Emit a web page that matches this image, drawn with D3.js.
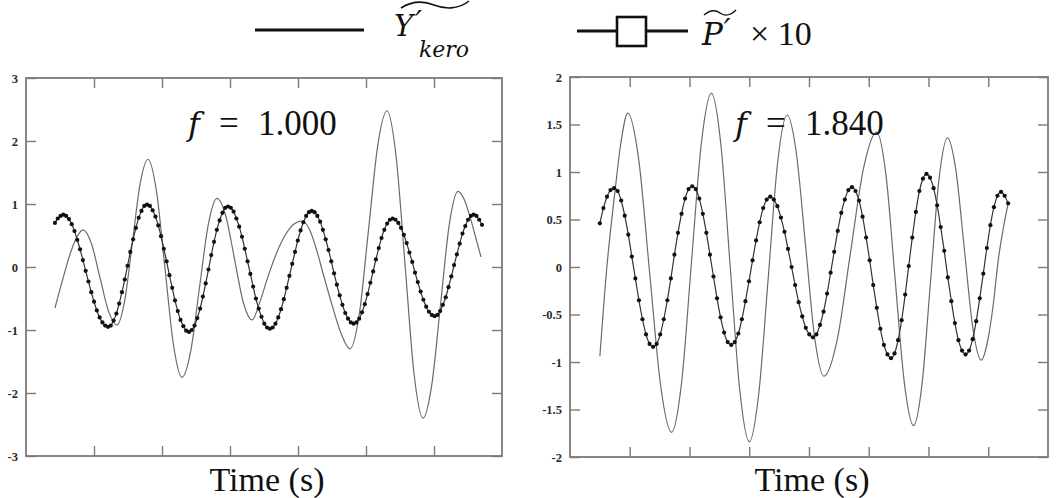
<!DOCTYPE html>
<html>
<head>
<meta charset="utf-8">
<script src="https://cdn.jsdelivr.net/npm/d3@7"></script>
<style>
  body { margin: 0; background: #fff; }
  svg { display: block; }
</style>
</head>
<body>
<div id="chart"></div>
<script>
/**
 * Data.
 */
// Left panel (f = 1.000): thin line, Y'kero.
const leftLineT = [0.426, 0.544, 0.662, 0.750, 0.838, 0.963, 1.088, 1.213, 1.338, 1.452, 1.566, 1.680, 1.794,
  1.919, 2.044, 2.169, 2.294, 2.423, 2.551, 2.680, 2.809, 2.938, 3.066, 3.195, 3.324, 3.441, 3.544, 3.676,
  3.809, 3.926, 4.059, 4.176, 4.279, 4.368, 4.500, 4.632, 4.765, 4.901, 5.037, 5.173, 5.309, 5.441, 5.574,
  5.706, 5.838, 5.967, 6.096, 6.224, 6.353, 6.441, 6.529, 6.618, 6.691];
const leftLineV = [-0.65, -0.18, 0.25, 0.48, 0.59, 0.37, -0.17, -0.70, -0.92, -0.53, 0.40, 1.33, 1.71,
  1.20, -0.02, -1.24, -1.75, -1.33, -0.33, 0.67, 1.09, 0.81, 0.13, -0.56, -0.84, -0.55, -0.20, 0.20,
  0.50, 0.67, 0.73, 0.58, 0.25, -0.10, -0.60, -1.05, -1.30, -0.75, 0.59, 1.93, 2.48, 1.77, 0.04,
  -1.69, -2.40, -1.87, -0.60, 0.67, 1.20, 1.08, 0.80, 0.45, 0.16];

// Left panel: P' x 10, sampled at a constant step between these two times.
const leftDotStart = 0.426;
const leftDotEnd = 6.706;
const leftDotV = [0.70, 0.77, 0.81, 0.83,
  0.81, 0.76, 0.68, 0.57, 0.43, 0.28, 0.11, -0.06, -0.23, -0.40, -0.55, -0.69, -0.80, -0.88, -0.93, -0.95,
  -0.93, -0.85, -0.74, -0.58, -0.40, -0.20, 0.02, 0.24, 0.44, 0.62, 0.78, 0.89, 0.97, 0.99,
  0.97, 0.90, 0.80, 0.66, 0.49, 0.29, 0.09, -0.13, -0.33, -0.53, -0.70, -0.84, -0.94, -1.01, -1.03,
  -1.00, -0.93, -0.81, -0.66, -0.47, -0.26, -0.04, 0.19, 0.40, 0.59, 0.74, 0.86, 0.94, 0.96,
  0.94, 0.88, 0.77, 0.64, 0.48, 0.29, 0.09, -0.11, -0.31, -0.50, -0.66, -0.79, -0.90, -0.96, -0.98,
  -0.96, -0.90, -0.80, -0.67, -0.51, -0.33, -0.14, 0.05, 0.24, 0.42, 0.58, 0.71, 0.81, 0.87, 0.89,
  0.87, 0.81, 0.72, 0.59, 0.44, 0.27, 0.09, -0.10, -0.28, -0.45, -0.60, -0.73, -0.82, -0.88, -0.90,
  -0.88, -0.82, -0.72, -0.59, -0.43, -0.25, -0.07, 0.12, 0.30, 0.46, 0.59, 0.69, 0.75, 0.77,
  0.75, 0.70, 0.62, 0.51, 0.38, 0.23, 0.08, -0.09, -0.24, -0.39, -0.52, -0.63, -0.71, -0.76, -0.78,
  -0.76, -0.70, -0.60, -0.48, -0.32, -0.15, 0.03, 0.20, 0.37, 0.53, 0.65, 0.75, 0.81, 0.83,
  0.81, 0.75, 0.67];

// Right panel (f = 1.840): thin line.
const rightLineT = [0.500, 0.617, 0.750, 0.850, 0.967, 1.150, 1.333, 1.517, 1.700, 1.867, 2.033, 2.200,
  2.367, 2.525, 2.683, 2.842, 3.000, 3.158, 3.317, 3.475, 3.633, 3.788, 3.942, 4.096, 4.250, 4.471,
  4.692, 4.913, 5.133, 5.288, 5.442, 5.596, 5.750, 5.892, 6.033, 6.175, 6.317, 6.458, 6.600, 6.742,
  6.883, 6.983, 7.083, 7.167, 7.250, 7.333];
const rightLineV = [-0.94, 0.00, 0.78, 1.30, 1.62, 1.13, -0.06, -1.25, -1.74, -1.22, 0.05, 1.31,
  1.83, 1.29, -0.01, -1.30, -1.84, -1.34, -0.12, 1.10, 1.60, 1.20, 0.23, -0.75, -1.15, -0.77,
  0.14, 1.04, 1.42, 0.97, -0.13, -1.22, -1.67, -1.23, -0.16, 0.92, 1.36, 1.02, 0.19, -0.64,
  -0.98, -0.80, -0.40, 0.07, 0.40, 0.67];

// Right panel: P' x 10.
const rightDotStart = 0.5;
const rightDotEnd = 7.333;
const rightDotV = [0.46, 0.62, 0.74, 0.81, 0.83,
  0.80, 0.70, 0.54, 0.34, 0.11, -0.12, -0.35, -0.55, -0.71, -0.81, -0.84,
  -0.81, -0.71, -0.55, -0.35, -0.12, 0.13, 0.36, 0.56, 0.72, 0.82, 0.85,
  0.82, 0.72, 0.56, 0.36, 0.13, -0.10, -0.33, -0.53, -0.69, -0.79, -0.82,
  -0.79, -0.70, -0.55, -0.36, -0.15, 0.07, 0.28, 0.47, 0.62, 0.71, 0.74,
  0.71, 0.64, 0.52, 0.37, 0.19, 0.00, -0.19, -0.37, -0.52, -0.64, -0.71, -0.74,
  -0.71, -0.61, -0.47, -0.28, -0.06, 0.16, 0.38, 0.57, 0.71, 0.81, 0.84,
  0.80, 0.70, 0.53, 0.31, 0.07, -0.19, -0.43, -0.65, -0.82, -0.92, -0.96,
  -0.91, -0.77, -0.56, -0.29, 0.01, 0.31, 0.58, 0.80, 0.93, 0.98,
  0.94, 0.83, 0.65, 0.42, 0.17, -0.11, -0.36, -0.59, -0.77, -0.88, -0.92,
  -0.88, -0.76, -0.57, -0.33, -0.07, 0.20, 0.44, 0.63, 0.75, 0.79,
  0.75, 0.67];

// Ticks and labels.
const leftXTicks = [1, 2, 3, 4, 5, 6];
const rightXTicks = [1, 2, 3, 4, 5, 6, 7];
const leftYTicks = [3, 2, 1, 0, -1, -2, -3];
const rightYTicks = [2, 1.5, 1, 0.5, 0, -0.5, -1, -1.5, -2];
const panelValues = ["1.000", "1.840"];
const xLabel = "Time (s)";

/**
 * SVG container.
 */
const width = 1060;
const height = 498;
const svg = d3.select("#chart").append("svg").attr("width", width).attr("height", height);

const serif = "Liberation Serif, serif";
const mathItalic = "DejaVu Serif, serif";
const frameColor = "#7a7a7a";

/**
 * Draws one panel.
 */
function drawPanel(o) {
  const x = d3.scaleLinear().domain(o.xDomain).range([o.left, o.right]);
  const y = d3.scaleLinear().domain(o.yDomain).range([o.bottom, o.top]);
  const g = svg.append("g");

  // Ticks pointing inwards on all four sides.
  const tickStyle = (sel) => {
    sel.select(".domain").remove();
    sel.selectAll(".tick line").attr("stroke", frameColor).attr("stroke-width", 1.4);
  };
  g.append("g").attr("transform", `translate(0,${o.top})`)
    .call(d3.axisTop(x).tickValues(o.xTicks).tickSize(-10).tickFormat(""))
    .call(tickStyle);
  g.append("g").attr("transform", `translate(0,${o.bottom})`)
    .call(d3.axisBottom(x).tickValues(o.xTicks).tickSize(-10).tickFormat(""))
    .call(tickStyle);
  g.append("g").attr("transform", `translate(${o.right},0)`)
    .call(d3.axisRight(y).tickValues(o.yTicks).tickSize(-10).tickFormat(""))
    .call(tickStyle);
  g.append("g").attr("transform", `translate(${o.left},0)`)
    .call(d3.axisLeft(y).tickValues(o.yTicks).tickSize(-10).tickPadding(8).tickFormat((d) => String(d)))
    .call(tickStyle)
    .call((a) => a.selectAll(".tick text")
      .style("font-family", serif).style("font-weight", "bold").style("font-size", "12.5px")
      .attr("fill", "#2a2a2a"));

  // Frame.
  g.append("rect")
    .attr("x", o.left).attr("y", o.top)
    .attr("width", o.right - o.left).attr("height", o.bottom - o.top)
    .attr("fill", "none").attr("stroke", frameColor).attr("stroke-width", 1.8);

  // Thin line.
  const thin = o.lineT.map((t, i) => [t, o.lineV[i]]);
  g.append("path")
    .datum(thin)
    .attr("fill", "none").attr("stroke", "#6a6a6a").attr("stroke-width", 1.2)
    .attr("d", d3.line().x((d) => x(d[0])).y((d) => y(d[1])).curve(d3.curveMonotoneX));

  // Dotted line.
  const n = o.dotV.length;
  const step = (o.dotEnd - o.dotStart) / (n - 1);
  const dots = o.dotV.map((v, i) => [o.dotStart + i * step, v]);
  g.append("path")
    .datum(dots)
    .attr("fill", "none").attr("stroke", "#333").attr("stroke-width", 1.2)
    .attr("d", d3.line().x((d) => x(d[0])).y((d) => y(d[1])).curve(d3.curveMonotoneX));
  g.append("g")
    .selectAll("circle")
    .data(dots)
    .enter()
    .append("circle")
    .attr("cx", (d) => x(d[0])).attr("cy", (d) => y(d[1]))
    .attr("r", 2.1).attr("fill", "#111");

  // f = value.
  const ann = g.append("g").style("font-family", serif).style("font-size", "35px").attr("fill", "#111");
  ann.append("text").attr("x", o.annX - 2).attr("y", 135)
    .style("font-family", mathItalic).style("font-style", "italic").style("font-size", "32px").text("f");
  ann.append("text").attr("x", o.annX + 29).attr("y", 135).text("=");
  ann.append("text").attr("x", o.annX + 68).attr("y", 135).text(o.value);

  // x label.
  g.append("text")
    .attr("x", (o.left + o.right) / 2 + 3).attr("y", 491)
    .attr("text-anchor", "middle")
    .style("font-family", serif).style("font-size", "34px").attr("fill", "#111")
    .text(xLabel);
}

drawPanel({
  left: 26, right: 502, top: 78, bottom: 456,
  xDomain: [0, 7], yDomain: [-3, 3],
  xTicks: leftXTicks, yTicks: leftYTicks,
  lineT: leftLineT, lineV: leftLineV,
  dotStart: leftDotStart, dotEnd: leftDotEnd, dotV: leftDotV,
  annX: 190, value: panelValues[0],
});

drawPanel({
  left: 570, right: 1048, top: 77, bottom: 457,
  xDomain: [0, 8], yDomain: [-2, 2],
  xTicks: rightXTicks, yTicks: rightYTicks,
  lineT: rightLineT, lineV: rightLineV,
  dotStart: rightDotStart, dotEnd: rightDotEnd, dotV: rightDotV,
  annX: 737, value: panelValues[1],
});

/**
 * Legend.
 */
const legend = svg.append("g").attr("fill", "#111");

// Y'kero entry: Y, prime and the subscript are placed side by side so they do not collide.
legend.append("line").attr("x1", 255).attr("x2", 364).attr("y1", 30).attr("y2", 30)
  .attr("stroke", "#111").attr("stroke-width", 3.2);
const yText = legend.append("text").attr("x", 394).attr("y", 36)
  .style("font-family", mathItalic).style("font-size", "29px").style("font-style", "italic");
yText.append("tspan").text("Y");
yText.append("tspan").attr("dx", 2).attr("dy", -4).style("font-size", "30px").text("′");
legend.append("text").attr("x", 419).attr("y", 57)
  .style("font-family", mathItalic).style("font-size", "22px").style("font-style", "italic")
  .text("kero");
legend.append("path")
  .attr("d", "M401,8 C412,1 424,1 434,5 S458,10 469,1")
  .attr("fill", "none").attr("stroke", "#111").attr("stroke-width", 1.6);

// P' x 10 entry.
legend.append("line").attr("x1", 577).attr("x2", 688).attr("y1", 31).attr("y2", 31)
  .attr("stroke", "#111").attr("stroke-width", 3.2);
legend.append("rect").attr("x", 617).attr("y", 17).attr("width", 29).attr("height", 29)
  .attr("fill", "#fff").attr("stroke", "#111").attr("stroke-width", 2.6);
const pText = legend.append("text").attr("x", 702).attr("y", 45)
  .style("font-family", mathItalic).style("font-size", "31px").style("font-style", "italic");
pText.append("tspan").text("P");
pText.append("tspan").attr("dx", 1).attr("dy", -5).style("font-size", "30px").text("′");
legend.append("path")
  .attr("d", "M704,15 C710,10 716,10 720,13 S730,16 736,10")
  .attr("fill", "none").attr("stroke", "#111").attr("stroke-width", 1.5);
legend.append("text").attr("x", 750).attr("y", 45)
  .style("font-family", serif).style("font-size", "34px").text("× 10");
</script>
</body>
</html>
